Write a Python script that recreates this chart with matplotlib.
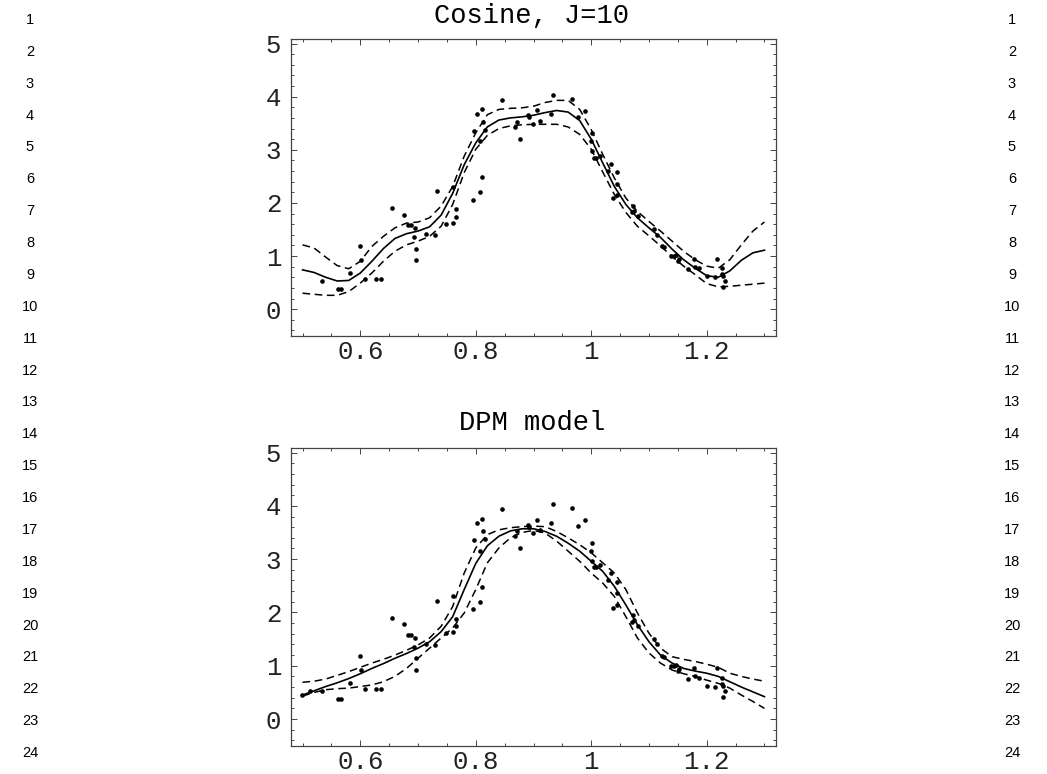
import matplotlib
matplotlib.use('Agg')
import matplotlib.pyplot as plt
from matplotlib.ticker import MultipleLocator, FixedLocator

# observed data points (same sample in both panels)
pts_x = [0.534, 0.561, 0.567, 0.583, 0.600, 0.602, 0.608, 0.628, 0.636, 0.655,
         0.676, 0.683, 0.687, 0.694, 0.693, 0.696, 0.696, 0.714, 0.729, 0.732,
         0.749, 0.761, 0.765, 0.765, 0.761, 0.795, 0.797, 0.803, 0.808, 0.808,
         0.811, 0.811, 0.812, 0.816, 0.845, 0.868, 0.871, 0.877, 0.891, 0.892,
         0.899, 0.906, 0.911, 0.931, 0.933, 0.967, 0.977, 0.989, 1.002, 1.000,
         1.001, 1.005, 1.008, 1.015, 1.029, 1.035, 1.045, 1.038, 1.044, 1.044,
         1.070, 1.072, 1.074, 1.081, 1.109, 1.114, 1.123, 1.126, 1.139, 1.143,
         1.147, 1.150, 1.152, 1.168, 1.178, 1.180, 1.187, 1.200, 1.214, 1.218,
         1.226, 1.227, 1.229, 1.228, 1.232]
pts_y = [0.53, 0.37, 0.37, 0.68, 1.19, 0.92, 0.57, 0.56, 0.56, 1.90,
         1.78, 1.58, 1.58, 1.52, 1.36, 1.14, 0.92, 1.41, 1.39, 2.22,
         1.61, 2.30, 1.88, 1.74, 1.63, 2.06, 3.36, 3.68, 3.16, 2.20,
         3.76, 2.48, 3.52, 3.38, 3.94, 3.43, 3.52, 3.21, 3.65, 3.61,
         3.49, 3.74, 3.54, 3.68, 4.03, 3.96, 3.62, 3.73, 3.31, 3.16,
         2.97, 2.85, 2.85, 2.89, 2.60, 2.74, 2.58, 2.09, 2.36, 2.14,
         1.82, 1.95, 1.85, 1.75, 1.50, 1.40, 1.18, 1.17, 1.00, 1.00,
         1.01, 0.90, 0.94, 0.75, 0.95, 0.80, 0.77, 0.62, 0.60, 0.95,
         0.77, 0.66, 0.62, 0.41, 0.53]
# two extra marks only visible in the lower panel
dpm_extra_x = [0.499, 0.513]
dpm_extra_y = [0.45, 0.52]

grid_x = [0.50, 0.52, 0.54, 0.56, 0.58, 0.60, 0.62, 0.64, 0.66, 0.68, 0.70,
          0.72, 0.74, 0.76, 0.78, 0.80, 0.82, 0.84, 0.86, 0.88, 0.90, 0.92,
          0.94, 0.96, 0.98, 1.00, 1.02, 1.04, 1.06, 1.08, 1.10, 1.12, 1.14,
          1.16, 1.18, 1.20, 1.22, 1.24, 1.26, 1.28, 1.30]

# Cosine, J=10: estimate and band
cos_mid = [0.74, 0.69, 0.60, 0.53, 0.54, 0.68, 0.90, 1.14, 1.33, 1.42, 1.47,
           1.55, 1.77, 2.18, 2.72, 3.13, 3.43, 3.56, 3.60, 3.62, 3.65, 3.70,
           3.74, 3.71, 3.55, 3.20, 2.75, 2.31, 1.97, 1.72, 1.53, 1.35, 1.13,
           0.93, 0.77, 0.63, 0.60, 0.72, 0.92, 1.06, 1.11]
cos_hi = [1.21, 1.15, 0.98, 0.82, 0.76, 0.90, 1.18, 1.37, 1.53, 1.62, 1.64,
          1.72, 1.94, 2.31, 2.88, 3.32, 3.66, 3.76, 3.78, 3.79, 3.82, 3.89,
          3.93, 3.93, 3.76, 3.38, 2.91, 2.47, 2.09, 1.84, 1.65, 1.47, 1.28,
          1.09, 0.93, 0.81, 0.77, 0.93, 1.21, 1.47, 1.64]
cos_lo = [0.30, 0.28, 0.26, 0.26, 0.33, 0.49, 0.68, 0.90, 1.09, 1.21, 1.28,
          1.37, 1.56, 1.97, 2.57, 3.01, 3.27, 3.40, 3.45, 3.47, 3.48, 3.48,
          3.48, 3.43, 3.29, 3.01, 2.58, 2.16, 1.82, 1.56, 1.38, 1.19, 0.99,
          0.81, 0.65, 0.48, 0.42, 0.43, 0.45, 0.47, 0.49]

# DPM model: estimate and band
dpm_mid = [0.45, 0.53, 0.61, 0.68, 0.76, 0.85, 0.95, 1.04, 1.14, 1.23, 1.33,
           1.45, 1.64, 1.92, 2.43, 2.92, 3.25, 3.43, 3.53, 3.57, 3.57, 3.52,
           3.43, 3.30, 3.15, 2.96, 2.77, 2.49, 2.14, 1.77, 1.45, 1.20, 1.05,
           0.95, 0.90, 0.86, 0.80, 0.70, 0.60, 0.51, 0.42]
dpm_hi = [0.69, 0.71, 0.75, 0.82, 0.89, 0.97, 1.05, 1.12, 1.20, 1.29, 1.39,
          1.52, 1.74, 2.11, 2.74, 3.21, 3.46, 3.55, 3.59, 3.61, 3.62, 3.61,
          3.52, 3.40, 3.27, 3.12, 2.93, 2.74, 2.43, 1.99, 1.61, 1.33, 1.17,
          1.12, 1.08, 1.03, 0.97, 0.86, 0.80, 0.75, 0.71]
dpm_lo = [0.43, 0.50, 0.55, 0.57, 0.58, 0.61, 0.64, 0.70, 0.80, 0.95, 1.14,
          1.33, 1.52, 1.71, 1.99, 2.43, 2.93, 3.21, 3.40, 3.50, 3.54, 3.49,
          3.34, 3.15, 2.96, 2.74, 2.55, 2.30, 1.92, 1.52, 1.24, 1.05, 0.92,
          0.85, 0.80, 0.73, 0.67, 0.58, 0.45, 0.33, 0.20]

x_ticks = [0.6, 0.8, 1.0, 1.2]
x_labels = ['0.6', '0.8', '1', '1.2']
y_ticks = [0, 1, 2, 3, 4, 5]

MONO = 'Liberation Mono'
W, H = 1047, 774


def style_axes(ax):
    ax.set_xlim(0.48, 1.32)
    ax.set_ylim(-0.5, 5.08)
    ax.xaxis.set_major_locator(FixedLocator(x_ticks))
    ax.set_xticklabels(x_labels, fontfamily=MONO, fontsize=18.5)
    ax.xaxis.set_minor_locator(MultipleLocator(0.05))
    ax.set_yticks(y_ticks)
    ax.set_yticklabels([str(v) for v in y_ticks], fontfamily=MONO, fontsize=18.5)
    ax.yaxis.set_minor_locator(MultipleLocator(0.2))
    ax.tick_params(which='both', direction='in', top=True, right=True,
                   color='#444444', width=0.7, labelcolor='#222222')
    ax.tick_params(which='major', length=4.5)
    ax.tick_params(axis='x', which='major', pad=3)
    ax.tick_params(axis='y', which='major', pad=7)
    ax.tick_params(which='minor', length=2.2)
    for s in ax.spines.values():
        s.set_color('#444444')
        s.set_linewidth(0.9)


def draw_panel(ax, mid, hi, lo):
    ax.plot(grid_x, mid, color='black', lw=1.2)
    ax.plot(grid_x, hi, color='black', lw=1.1, linestyle=(0, (5, 3)))
    ax.plot(grid_x, lo, color='black', lw=1.1, linestyle=(0, (5, 3)))
    ax.scatter(pts_x, pts_y, s=11, color='black', linewidths=0, zorder=3)
    style_axes(ax)


fig = plt.figure(figsize=(W / 100, H / 100), dpi=100)
ax1 = fig.add_axes([291 / W, 1 - 335.7 / H, 485 / W, 296.4 / H])
ax2 = fig.add_axes([291 / W, 1 - 745.7 / H, 485 / W, 297.4 / H])

draw_panel(ax1, cos_mid, cos_hi, cos_lo)
draw_panel(ax2, dpm_mid, dpm_hi, dpm_lo)
ax2.scatter(dpm_extra_x, dpm_extra_y, s=11, color='black', linewidths=0, zorder=3)

fig.text(532 / W, 1 - 16 / H, 'Cosine, J=10', ha='center', va='center',
         fontfamily=MONO, fontsize=19.5)
fig.text(532 / W, 1 - 423 / H, 'DPM model', ha='center', va='center',
         fontfamily=MONO, fontsize=19.5)

# line numbers down both margins
for i in range(1, 25):
    yy = 1 - (20 + (i - 1) * 31.87) / H
    fig.text(30 / W, yy, str(i), ha='center', va='center',
             fontfamily='Liberation Sans', fontsize=10.5)
    fig.text(1012 / W, yy, str(i), ha='center', va='center',
             fontfamily='Liberation Sans', fontsize=10.5)

fig.savefig('out.png', dpi=100)
